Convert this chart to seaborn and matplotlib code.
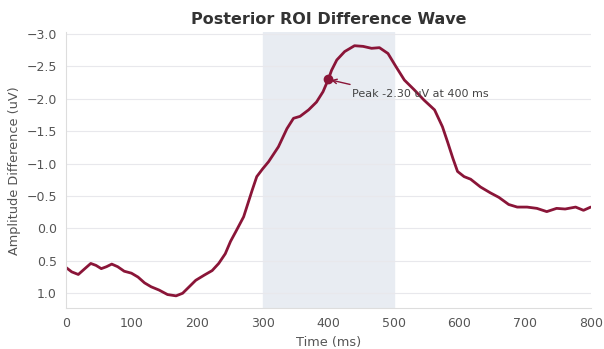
import numpy as np
import pandas as pd
from matplotlib import pyplot as plt
import seaborn as sns

# difference wave (time in ms, amplitude in uV)
times = [0, 9, 19, 29, 38, 46, 54, 62, 70, 79, 89, 100, 110, 120, 130, 142, 155,
         168, 178, 188, 198, 211, 223, 233, 243, 251, 259, 271, 284, 291, 300,
         309, 324, 337, 347, 357, 370, 382, 392, 400, 405, 413, 425, 440, 453,
         466, 478, 491, 503, 516, 531, 546, 562, 574, 582, 590, 597, 607, 617,
         632, 647, 660, 675, 688, 703, 718, 733, 748, 761, 777, 789, 800]
amplitude = [0.60, 0.67, 0.71, 0.62, 0.54, 0.57, 0.62, 0.59, 0.55, 0.59, 0.66,
             0.69, 0.75, 0.84, 0.90, 0.95, 1.02, 1.04, 1.00, 0.90, 0.80, 0.72,
             0.65, 0.54, 0.39, 0.20, 0.05, -0.18, -0.59, -0.80, -0.92, -1.03,
             -1.26, -1.54, -1.70, -1.73, -1.83, -1.95, -2.11, -2.30, -2.44, -2.60,
             -2.73, -2.82, -2.81, -2.78, -2.79, -2.70, -2.50, -2.29, -2.14, -1.98,
             -1.83, -1.57, -1.33, -1.08, -0.88, -0.80, -0.76, -0.64, -0.55, -0.48,
             -0.37, -0.33, -0.33, -0.31, -0.26, -0.31, -0.30, -0.33, -0.28, -0.33]

window = (300, 500)
peak_time = 400
peak_amp = -2.30

df = pd.DataFrame({'time': times, 'amp': amplitude})

sns.set_theme(style='whitegrid')
plt.rcParams['font.family'] = ['DejaVu Sans']

fig, ax = plt.subplots(figsize=(6.04, 3.49), dpi=100)
fig.subplots_adjust(left=0.109, right=0.978, bottom=0.117, top=0.908)
line_color = '#8a1538'

# analysis window
ax.axvspan(*window, color='#e8ecf2', zorder=0)

sns.lineplot(data=df, x='time', y='amp', color=line_color, linewidth=2.0, ax=ax)
ax.plot(peak_time, peak_amp, 'o', color=line_color, markersize=6)
ax.annotate(f'Peak {peak_amp:.2f} uV at {peak_time} ms', xy=(peak_time, peak_amp),
            xytext=(436, -2.08), fontsize=8, color='#444444', va='center',
            arrowprops=dict(arrowstyle='->', color=line_color, lw=1,
                            relpos=(0.12, 1.0), shrinkA=3))

ax.set_xlim(0, 800)
ax.set_ylim(1.23, -3.03)
ax.set_yticks([-3.0, -2.5, -2.0, -1.5, -1.0, -0.5, 0.0, 0.5, 1.0])
ax.set_title('Posterior ROI Difference Wave', fontsize=11.5, fontweight='bold', color='#333333')
ax.set_xlabel('Time (ms)', fontsize=9.3, color='#555555')
ax.set_ylabel('Amplitude Difference (uV)', fontsize=9.3, color='#555555')

ax.grid(axis='x', visible=False)
ax.grid(axis='y', color='#e8e8ec', linewidth=0.8)
ax.tick_params(axis='both', labelsize=9, colors='#555555', length=3, width=0.6)
for side in ['top', 'right']:
    ax.spines[side].set_visible(False)
for side in ['left', 'bottom']:
    ax.spines[side].set_color('#dddddd')
    ax.spines[side].set_linewidth(0.8)

plt.savefig('out.png', dpi=100)
